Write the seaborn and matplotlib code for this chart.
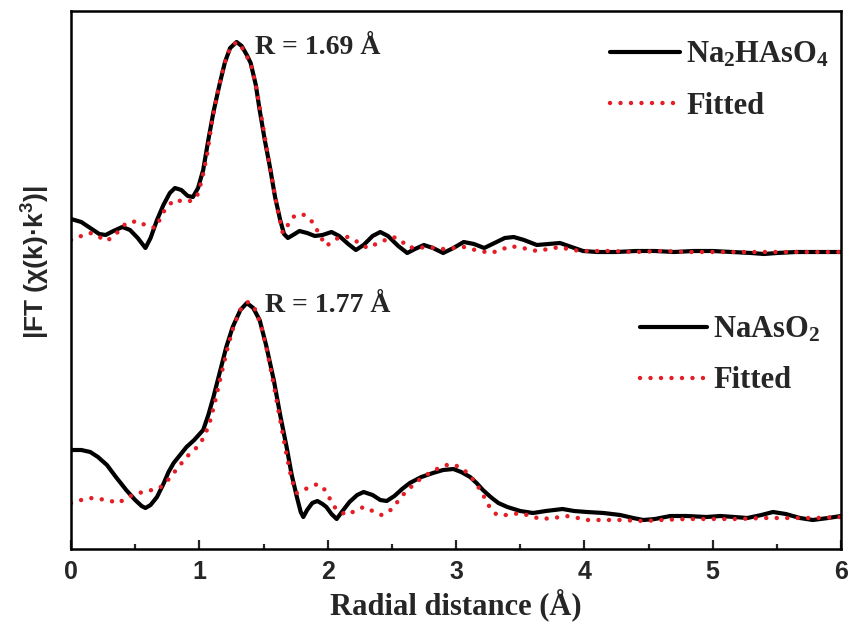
import matplotlib
matplotlib.use("Agg")
import matplotlib.pyplot as plt
import seaborn as sns
import pandas as pd

# ---------------- data (arbitrary units) ----------------
r_top_exp = [0.00, 0.08, 0.15, 0.22, 0.27, 0.33, 0.40, 0.46, 0.52, 0.58, 0.62, 0.67, 0.72, 0.77, 0.81,
             0.86, 0.91, 0.95, 0.99, 1.03, 1.07, 1.11, 1.16, 1.20, 1.24, 1.29, 1.33, 1.37, 1.40, 1.44,
             1.47, 1.51, 1.55, 1.59, 1.63, 1.66, 1.69, 1.73, 1.78, 1.84, 1.90, 1.96, 2.03, 2.09, 2.16,
             2.22, 2.28, 2.35, 2.41, 2.47, 2.55, 2.62, 2.68, 2.75, 2.82, 2.90, 2.98, 3.06, 3.14, 3.22,
             3.30, 3.38, 3.45, 3.53, 3.63, 3.72, 3.81, 3.90, 3.99, 4.10, 4.25, 4.40, 4.55, 4.70, 4.85,
             5.00, 5.15, 5.30, 5.40, 5.50, 5.65, 5.80, 6.00]
ft_top_exp = [330, 327, 321, 315, 314, 318, 322, 319, 311, 301, 311, 329, 344, 356, 361,
              359, 353, 352, 361, 379, 409, 437, 466, 487, 501, 507, 503, 494, 486, 464,
              439, 409, 382, 352, 329, 315, 311, 314, 318, 316, 313, 314, 317, 313, 305,
              299, 304, 313, 317, 313, 303, 296, 300, 304, 301, 296, 301, 307, 305, 301,
              306, 311, 312, 309, 304, 305, 306, 302, 298, 297, 297, 298, 298, 297, 298,
              298, 297, 296, 295, 296, 297, 297, 297]

r_top_fit = [0.00, 0.08, 0.15, 0.22, 0.28, 0.35, 0.43, 0.52, 0.59, 0.66, 0.72, 0.80, 0.86, 0.90, 0.95,
             0.98, 1.02, 1.06, 1.10, 1.15, 1.20, 1.24, 1.29, 1.33, 1.37, 1.41, 1.45, 1.49, 1.53, 1.57,
             1.61, 1.65, 1.69, 1.73, 1.78, 1.82, 1.89, 1.94, 1.99, 2.05, 2.10, 2.16, 2.22, 2.31, 2.36,
             2.41, 2.51, 2.57, 2.62, 2.70, 2.77, 2.84, 2.90, 2.98, 3.06, 3.15, 3.27, 3.35, 3.42, 3.52,
             3.63, 3.72, 3.81, 3.90, 4.00, 4.20, 4.40, 4.60, 4.80, 5.00, 5.20, 5.40, 5.60, 5.80, 6.00]
ft_top_fit = [309, 313, 316, 312, 308, 315, 326, 328, 323, 321, 337, 349, 348, 347, 349,
              352, 369, 394, 429, 461, 487, 501, 507, 502, 493, 481, 457, 427, 397, 367,
              339, 316, 324, 332, 335, 334, 326, 313, 303, 309, 312, 312, 308, 301, 304,
              307, 312, 309, 302, 301, 302, 301, 300, 301, 302, 299, 296, 299, 303, 301,
              298, 300, 302, 299, 298, 298, 297, 298, 297, 297, 297, 297, 297, 297, 297]

r_bot_exp = [0.00, 0.08, 0.15, 0.21, 0.28, 0.35, 0.43, 0.50, 0.55, 0.58, 0.62, 0.67, 0.72, 0.76, 0.80,
             0.85, 0.90, 0.96, 1.03, 1.07, 1.11, 1.16, 1.21, 1.26, 1.32, 1.37, 1.42, 1.47, 1.52, 1.58,
             1.63, 1.68, 1.72, 1.76, 1.79, 1.81, 1.84, 1.88, 1.92, 1.96, 1.99, 2.03, 2.07, 2.11, 2.17,
             2.23, 2.28, 2.35, 2.41, 2.46, 2.52, 2.58, 2.64, 2.73, 2.82, 2.90, 2.98, 3.04, 3.11, 3.16,
             3.21, 3.27, 3.33, 3.40, 3.50, 3.60, 3.70, 3.83, 3.92, 4.02, 4.15, 4.28, 4.38, 4.46, 4.55,
             4.67, 4.80, 4.95, 5.06, 5.17, 5.27, 5.38, 5.47, 5.57, 5.68, 5.78, 5.90, 6.00]
ft_bot_exp = [99, 99, 97, 92, 84, 72, 59, 49, 43, 41, 44, 52, 65, 77, 86,
              94, 102, 109, 119, 134, 152, 177, 202, 222, 239, 246, 241, 229, 204, 169,
              134, 102, 74, 52, 37, 32, 39, 46, 48, 45, 42, 35, 30, 37, 47,
              54, 57, 54, 49, 48, 53, 60, 66, 72, 76, 79, 80, 77, 72, 66,
              59, 52, 46, 42, 38, 36, 38, 40, 38, 37, 36, 34, 31, 29, 30,
              33, 33, 32, 33, 32, 31, 34, 37, 35, 31, 29, 31, 33]

r_bot_fit = [0.00, 0.08, 0.15, 0.22, 0.28, 0.37, 0.43, 0.50, 0.56, 0.63, 0.69, 0.75, 0.80, 0.85, 0.90,
             0.95, 1.00, 1.04, 1.08, 1.12, 1.17, 1.22, 1.27, 1.33, 1.38, 1.43, 1.48, 1.53, 1.58, 1.63,
             1.68, 1.72, 1.76, 1.80, 1.85, 1.92, 1.96, 1.99, 2.03, 2.07, 2.15, 2.21, 2.28, 2.35, 2.42,
             2.47, 2.51, 2.57, 2.64, 2.73, 2.82, 2.90, 2.96, 3.03, 3.10, 3.16, 3.22, 3.27, 3.32, 3.41,
             3.50, 3.58, 3.66, 3.76, 3.86, 3.95, 4.02, 4.15, 4.28, 4.46, 4.60, 4.80, 5.00, 5.20, 5.40,
             5.60, 5.80, 6.00]
ft_bot_fit = [46, 49, 51, 50, 49, 46, 51, 55, 57, 59, 61, 68, 76, 84, 92,
              98, 104, 113, 126, 146, 174, 201, 224, 242, 247, 241, 224, 197, 164, 129,
              94, 69, 56, 59, 61, 65, 62, 57, 47, 39, 34, 38, 42, 38, 34,
              37, 41, 52, 61, 71, 78, 83, 85, 82, 75, 65, 52, 40, 34, 34,
              36, 33, 30, 31, 33, 31, 29, 29, 29, 28, 29, 30, 30, 30, 31,
              31, 31, 32]

label_top = r"Na$_2$HAsO$_4$"
label_bot = r"NaAsO$_2$"
label_fit = "Fitted"
note_top = "R = 1.69 Å"
note_bot = "R = 1.77 Å"
x_ticks = [0, 1, 2, 3, 4, 5, 6]

# ---------------- style ----------------
sns.set_theme(style="ticks")
plt.rcParams["font.family"] = ["Liberation Serif", "DejaVu Serif"]
plt.rcParams["mathtext.default"] = "regular"
plt.rcParams["mathtext.fontset"] = "custom"
plt.rcParams["axes.linewidth"] = 1.8

RED = "#e41e26"
BLACK = "#000000"
dotted = (0, (0.01, 2.35))

fig = plt.figure(figsize=(8.52, 6.3), dpi=100)
ax = fig.add_axes([71 / 852, 1 - 549 / 630, 770 / 852, 538 / 630])

def draw(x, y, **kw):
    df = pd.DataFrame({"r": x, "ft": y})
    sns.lineplot(data=df, x="r", y="ft", ax=ax, sort=False, estimator=None, **kw)

draw(r_top_exp, ft_top_exp, color=BLACK, linewidth=3.0, solid_joinstyle="round")
draw(r_top_fit, ft_top_fit, color=RED, linewidth=3.2, linestyle=dotted, dash_capstyle="round")
draw(r_bot_exp, ft_bot_exp, color=BLACK, linewidth=3.0, solid_joinstyle="round")
draw(r_bot_fit, ft_bot_fit, color=RED, linewidth=3.2, linestyle=dotted, dash_capstyle="round")

lines = ax.get_lines()

ax.set_xlim(0, 6)
ax.set_ylim(0, 538)
ax.set_xticks(x_ticks)
ax.set_xticks([0.5, 1.5, 2.5, 3.5, 4.5, 5.5], minor=True)
ax.set_yticks([])
ax.tick_params(axis="x", which="major", direction="in", length=6.5, width=1.6, pad=8,
               top=False, bottom=True)
ax.tick_params(axis="x", which="minor", direction="in", length=3.8, width=1.6,
               top=False, bottom=True)
ax.set_xticklabels([str(t) for t in x_ticks], fontfamily=["Liberation Sans", "DejaVu Sans"],
                   fontweight="bold", fontsize=18)

ax.set_xlabel("Radial distance (Å)", fontsize=22, fontweight="bold",
              fontfamily=["Liberation Serif", "DejaVu Serif"], labelpad=3)
ax.set_ylabel("|FT (χ(k)·k$^3$)|", fontsize=19, fontweight="bold",
              fontfamily=["Liberation Sans", "DejaVu Sans"])
ax.yaxis.set_label_coords(-19 / 770, (549 - 262) / 538)

for sp in ax.spines.values():
    sp.set_visible(True)
    sp.set_color("black")
    sp.set_linewidth(1.8)

ax.text(1.434, 502, note_top, fontsize=20, fontweight="bold", va="center", ha="left")
ax.text(1.51, 244, note_bot, fontsize=20, fontweight="bold", va="center", ha="left")

leg_font = {"family": ["Liberation Serif", "DejaVu Serif"], "weight": "bold", "size": 22}
leg1 = ax.legend([lines[0], lines[1]], [label_top, label_fit], loc="upper left",
                 bbox_to_anchor=((610 - 71) / 770, (549 - 40) / 538), frameon=False, prop=leg_font,
                 handlelength=2.3, handletextpad=0.2, labelspacing=0.72, borderpad=0, borderaxespad=0)
ax.add_artist(leg1)
leg2 = ax.legend([lines[2], lines[3]], [label_bot, label_fit], loc="upper left",
                 bbox_to_anchor=((640 - 71) / 770, (549 - 315) / 538), frameon=False, prop=leg_font,
                 handlelength=2.2, handletextpad=0.2, labelspacing=0.72, borderpad=0, borderaxespad=0)

fig.savefig("out.png", dpi=100)
